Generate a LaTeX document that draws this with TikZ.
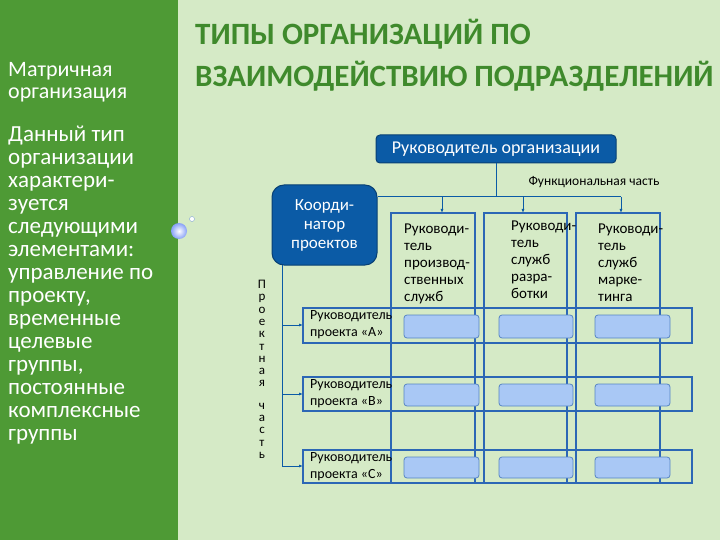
\documentclass[tikz,border=0pt]{standalone}
\usepackage{fontspec}
\setmainfont{Carlito}
\usetikzlibrary{arrows.meta}
\definecolor{bg}{HTML}{D5EAC6}
\definecolor{panel}{HTML}{4E9A35}
\definecolor{dblue}{HTML}{0B5BA6}
\definecolor{lblue}{HTML}{2C67B5}
\definecolor{cell}{HTML}{A9C8F5}
\definecolor{ttl}{HTML}{3F8A2C}
\begin{document}
\begin{tikzpicture}[x=1pt,y=-1pt,
  dbox/.style={draw=dblue!70!black,fill=dblue,rounded corners=4pt,text=white,line width=1pt},
  frame/.style={draw=lblue,line width=2.2pt},
  cellbox/.style={draw=lblue!80,fill=cell,rounded corners=3pt,line width=0.8pt},
  conn/.style={draw=dblue,line width=1pt},
  arr/.style={conn,-{Latex[length=4pt,width=3pt]}},
  ctext/.style={anchor=north west,align=left,font=\fontsize{15}{17}\selectfont,inner sep=0pt}]
\useasboundingbox (0,0) rectangle (720,540);
\fill[bg] (0,0) rectangle (720,540);
\fill[panel] (0,0) rectangle (178,540);
\node[anchor=north west,align=left,text=white,font=\fontsize{22}{22}\selectfont,inner sep=0pt] (t1) at (8,62) {Матричная\\организация};
\node[anchor=north west,align=left,text=white,font=\fontsize{23}{23}\selectfont,inner sep=0pt] (body) at (8,126) {Данный тип\\организации\\характери-\\зуется\\следующими\\элементами:\\управление по\\проекту,\\временные\\целевые\\группы,\\постоянные\\комплексные\\группы};
\node[anchor=west,text=ttl,font=\bfseries\fontsize{31}{32}\selectfont,inner sep=0pt] (h1) at (195,34) {ТИПЫ ОРГАНИЗАЦИЙ ПО};
\node[anchor=west,text=ttl,font=\bfseries\fontsize{31}{32}\selectfont,inner sep=0pt] (h2) at (195,76) {ВЗАИМОДЕЙСТВИЮ ПОДРАЗДЕЛЕНИЙ};
\shade[inner color=white,outer color=cell!80!blue] (179,231) circle (8);
\draw[lblue!60,fill=white] (192,219) circle (2.5);
% top
\node[dbox,minimum width=240pt,minimum height=28pt,font=\fontsize{18}{20}\selectfont] (top) at (496,149) {Руководитель организации};
\node[dbox,rounded corners=12pt,minimum width=105pt,minimum height=80pt,align=center,font=\fontsize{17}{19}\selectfont] (coord) at (324.5,225) {Коорди-\\натор\\проектов};
\node[font=\fontsize{13.5}{14}\selectfont,inner sep=0pt] (func) at (594,182) {Функциональная часть};
% columns
\draw[frame] (391,213) rectangle (475,483);
\draw[frame] (484,213) rectangle (567,483);
\draw[frame] (576,213) rectangle (660,483);
\coordinate (c1) at (442,213); \coordinate (c2) at (523,213); \coordinate (c3) at (621,213);
\coordinate (j) at (496,197);
\draw[conn] (top.south) -- (j);
\draw[conn] (coord.east |- j) -- (621,197);
\draw[arr] (442,197) -- (c1);
\draw[arr] (523,197) -- (c2);
\draw[arr] (621,197) -- (c3);
\node[ctext] (n1) at (404,224) {Руководи-\\тель\\производ-\\ственных\\служб};
\node[ctext] (n2) at (511,221) {Руководи-\\тель\\служб\\разра-\\ботки};
\node[ctext] (n3) at (598,224) {Руководи-\\тель\\служб\\марке-\\тинга};
% rows
\foreach \ya/\yb/\lab/\n in {308/343/А/a,377/411/B/b,450/483/С/c}{
  \draw[draw=lblue,line width=1.4pt] (303,\ya) rectangle (692,\yb);
  \node[ctext,font=\fontsize{14}{17}\selectfont] (r\n) at (310,\ya+2) {Руководитель\\проекта «\lab»};
  \draw[cellbox] (404,\ya+7) rectangle (479,\yb-5);
  \draw[cellbox] (499,\ya+7) rectangle (573,\yb-5);
  \draw[cellbox] (595,\ya+7) rectangle (670,\yb-5);
}
\coordinate (lv) at (282,265);
\draw[conn] (lv) -- (282,466);
\draw[arr] (282,325) -- (303,325);
\draw[arr] (282,394) -- (303,394);
\draw[arr] (282,466) -- (303,466);
\node[align=center,font=\fontsize{13}{12.3}\selectfont,inner sep=0pt,anchor=north] (vt) at (262,280) {П\\р\\о\\е\\к\\т\\н\\а\\я\\[10pt]ч\\а\\с\\т\\ь};
\end{tikzpicture}
\end{document}
